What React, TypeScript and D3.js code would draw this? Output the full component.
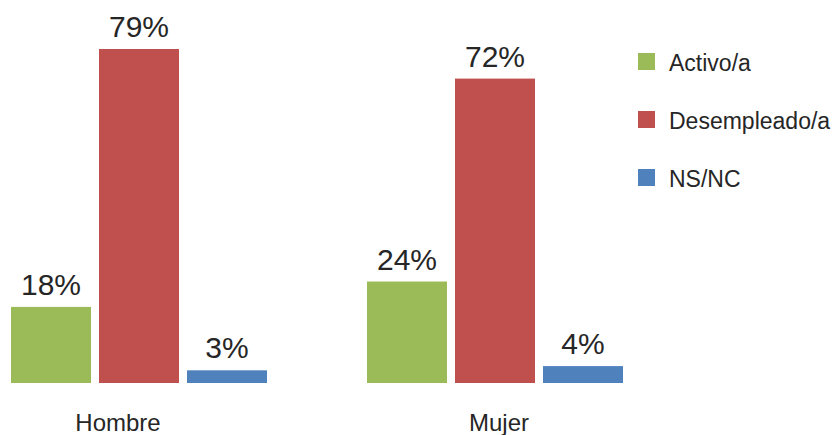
import React from "react";
import * as d3 from "d3";

const categories = ["Hombre", "Mujer"];
const seriesNames = ["Activo/a", "Desempleado/a", "NS/NC"];
const activo = [18, 24];
const desempleado = [79, 72];
const nsnc = [3, 4];
const seriesValues = [activo, desempleado, nsnc];
const colors = ["#9BBB59", "#C0504D", "#4F81BD"];

const W = 837;
const H = 435;
const FONT = "'Liberation Sans', Arial, sans-serif";
const TEXT = "#262626";

export default function App() {
  const x0 = d3.scaleBand<string>().domain(categories).range([11, 623]).paddingInner(100 / 356).paddingOuter(0);
  const x1 = d3.scaleBand<string>().domain(seriesNames).range([0, x0.bandwidth()]).paddingInner(8 / 88).paddingOuter(0);
  const xLabel = d3.scalePoint<string>().domain(categories).range([118, 499]);
  const y = d3.scaleLinear().domain([0, 79]).range([383, 49]);

  return (
    <svg width={W} height={H} style={{ position: "absolute", left: 0, top: 0, display: "block", background: "#fff" }}>
      {categories.map((c, ci) => (
        <g key={c} transform={`translate(${x0(c)},0)`}>
          {seriesNames.map((s, si) => {
            const v = seriesValues[si][ci];
            const bx = x1(s)!;
            return (
              <g key={s}>
                <rect x={bx} y={y(v)} width={x1.bandwidth()} height={y(0) - y(v)} fill={colors[si]} />
                <text x={bx + x1.bandwidth() / 2} y={y(v) - 12} textAnchor="middle" fontFamily={FONT} fontSize={30} fill={TEXT}>
                  {`${v}%`}
                </text>
              </g>
            );
          })}
        </g>
      ))}
      {categories.map((c) => (
        <text key={c} x={xLabel(c)} y={431} textAnchor="middle" fontFamily={FONT} fontSize={24} fill={TEXT}>
          {c}
        </text>
      ))}
      {seriesNames.map((s, si) => (
        <g key={s} transform={`translate(638,${53 + si * 58})`}>
          <rect x={0} y={0} width={17} height={17} fill={colors[si]} />
          <text x={31} y={18} fontFamily={FONT} fontSize={23} fill={TEXT}>
            {s}
          </text>
        </g>
      ))}
    </svg>
  );
}
